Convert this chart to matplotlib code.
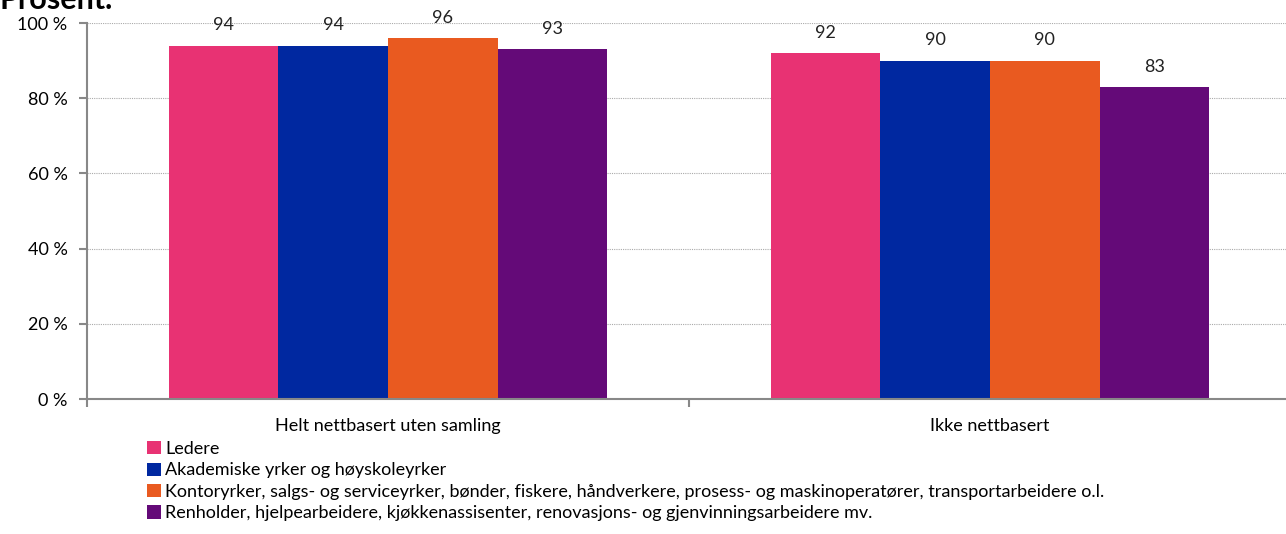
import matplotlib.pyplot as plt
import numpy as np

plt.rcParams['font.family'] = ['Lato', 'DejaVu Sans']

categories = ['Helt nettbasert uten samling', 'Ikke nettbasert']
series = [
    'Ledere',
    'Akademiske yrker og høyskoleyrker',
    'Kontoryrker, salgs- og serviceyrker, bønder, fiskere, håndverkere, prosess- og maskinoperatører, transportarbeidere o.l.',
    'Renholder, hjelpearbeidere, kjøkkenassisenter, renovasjons- og gjenvinningsarbeidere mv.',
]
ledere = [94, 92]
akademiske = [94, 90]
kontor = [96, 90]
renholder = [93, 83]
colors = ['#e83273', '#0028a0', '#e95a20', '#640a78']

fig = plt.figure(figsize=(12.86, 5.34), dpi=100)
ax = fig.add_axes([87 / 1286, 1 - 399 / 534, 1204 / 1286, 376 / 534])

x = np.arange(len(categories))
w = 0.182
values = [ledere, akademiske, kontor, renholder]
for i, (vals, c, name) in enumerate(zip(values, colors, series)):
    bars = ax.bar(x + (i - 1.5) * w, vals, w, color=c, label=name)
    for b, v in zip(bars, vals):
        ax.text(b.get_x() + b.get_width() / 2, v + 3.3, str(v), ha='center',
                va='bottom', fontsize=13, color='#222222')

ax.set_xlim(-0.5, 1.5)
ax.set_ylim(0, 100)
ax.set_yticks(range(0, 101, 20))
ax.set_yticklabels([f'{t} %' for t in range(0, 101, 20)], fontsize=13)
ax.yaxis.grid(True, linestyle=(0, (1, 1)), color='#aaaaaa', linewidth=0.8)
ax.set_axisbelow(True)

ax.set_xticks([-0.5, 0.5])
ax.set_xticklabels([])
ax.set_xticks(x, minor=True)
ax.set_xticklabels(categories, minor=True, fontsize=13)
ax.tick_params(axis='x', which='minor', length=0, pad=14)
ax.tick_params(axis='x', which='major', length=6, color='#888888', width=1.5)
ax.tick_params(axis='y', length=6, color='#888888', width=1.5, pad=8)

for s in ['top', 'right']:
    ax.spines[s].set_visible(False)
for s in ['left', 'bottom']:
    ax.spines[s].set_color('#888888')
    ax.spines[s].set_linewidth(1.5)

ax.legend(loc='upper left', bbox_to_anchor=(147 / 1286, 1 - 441 / 534),
          bbox_transform=fig.transFigure, frameon=False, fontsize=13,
          handlelength=0.75, handleheight=0.75, handletextpad=0.25,
          labelspacing=0.3, borderaxespad=0, borderpad=0)

fig.text(0.0, 1.0, 'Prosent.', fontsize=22, fontweight='bold', ha='left',
         va='center')

fig.savefig('out.png', dpi=100)
